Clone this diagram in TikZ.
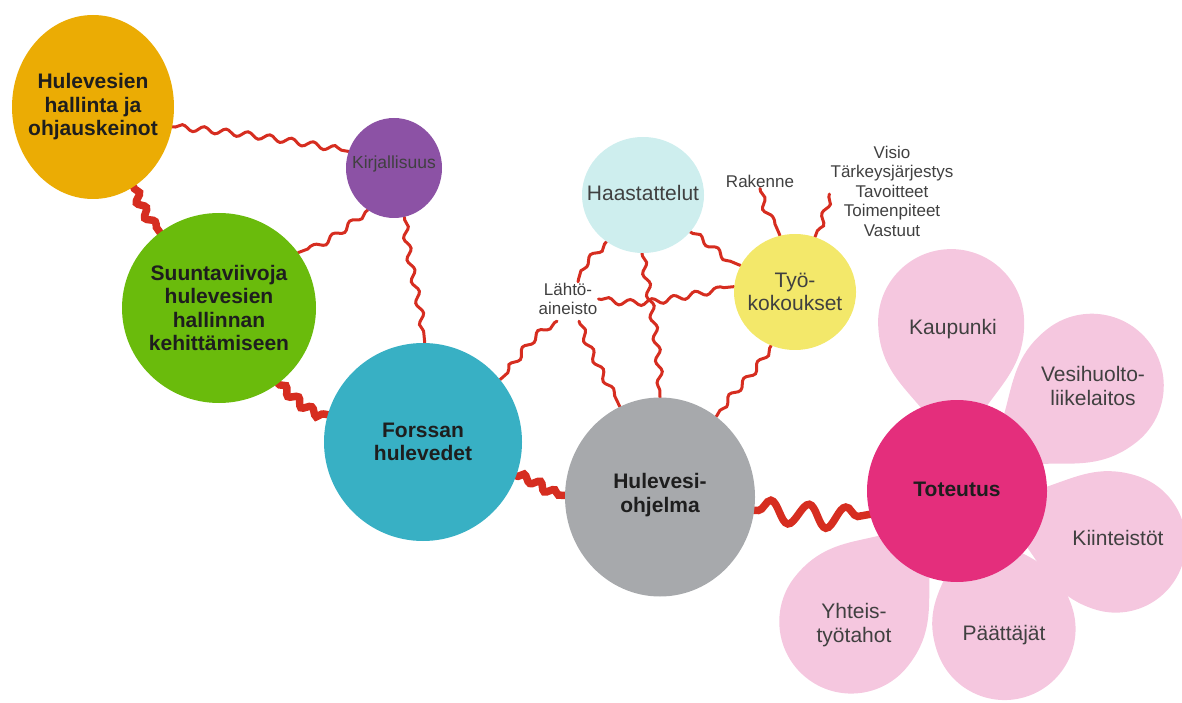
\documentclass[tikz,border=0pt]{standalone}
\usepackage{fontspec}
\setmainfont{Liberation Sans}
\usetikzlibrary{shapes.geometric,decorations.pathmorphing}
\definecolor{cOrange}{RGB}{235,172,4}
\definecolor{cPurple}{RGB}{140,82,165}
\definecolor{cGreen}{RGB}{106,187,12}
\definecolor{cTeal}{RGB}{56,176,196}
\definecolor{cGrey}{RGB}{167,169,172}
\definecolor{cCyan}{RGB}{206,238,238}
\definecolor{cYellow}{RGB}{243,232,106}
\definecolor{cMagenta}{RGB}{228,46,124}
\definecolor{cPink}{RGB}{245,199,223}
\definecolor{cRed}{RGB}{214,45,32}
\definecolor{cText}{RGB}{30,30,30}
\pgfdeclarelayer{bg}
\pgfsetlayers{bg,main}
\begin{document}
\begin{tikzpicture}[x=1pt,y=1pt,
  bubble/.style={ellipse, inner sep=0pt, draw=none},
  bigtext/.style={font=\fontsize{21}{23.5}\selectfont\bfseries, text=cText, align=center, inner sep=0pt},
  midtext/.style={font=\fontsize{21}{23.5}\selectfont, text=cText!85, align=center, inner sep=0pt},
  smalltext/.style={font=\fontsize{17}{19.5}\selectfont, text=cText!85, align=center, inner sep=1pt},
  wig/.style={draw=cRed, line width=3pt, line cap=round, decorate,
    decoration={snake, amplitude=3pt, segment length=22pt, pre length=3pt, post length=3pt}},
  thickwig/.style={draw=cRed, line width=7.5pt, line cap=round, decorate,
    decoration={snake, amplitude=3.5pt, segment length=17pt, pre length=2pt, post length=2pt}},
  bigwig/.style={draw=cRed, line width=7.5pt, line cap=round, decorate,
    decoration={snake, amplitude=11pt, segment length=38pt, pre length=4pt, post length=2pt}}
]
\useasboundingbox (0,0) rectangle (1182,702);

% petals
\foreach \a/\L/\R in {92/169/73, 38/171/72, -18/167/70, -71/146/71, 231/168/72}{
  \fill[cPink, shift={(957,211)}, rotate=\a]
    (0,0) .. controls ({0.55*\L},7) and ({\L-\R},\R) .. (\L,\R)
    arc[start angle=90, end angle=-90, radius=\R]
    .. controls ({\L-\R},-\R) and ({0.55*\L},-7) .. cycle;
}

% main bubbles
\node[bubble, fill=cOrange, minimum width=162pt, minimum height=184pt] (hal) at (93,595) {};
\node[bigtext] (halT) at (hal) {Hulevesien\\hallinta ja\\ohjauskeinot};

\node[bubble, fill=cPurple, minimum width=96pt, minimum height=100pt] (kir) at (394,534) {};
\node[midtext, font=\fontsize{17.5}{21}\selectfont] (kirT) at ([yshift=4pt]kir.center) {Kirjallisuus};

\node[bubble, fill=cGreen, minimum width=194pt, minimum height=190pt] (sun) at (219,394) {};
\node[bigtext] (sunT) at (sun) {Suuntaviivoja\\hulevesien\\hallinnan\\kehittämiseen};

\node[bubble, fill=cTeal, minimum width=198pt, minimum height=198pt] (for) at (423,260) {};
\node[bigtext] (forT) at (for) {Forssan\\hulevedet};

\node[bubble, fill=cGrey, minimum width=190pt, minimum height=199pt] (hul) at (660,205) {};
\node[bigtext] (hulT) at ([yshift=2pt]hul.center) {Hulevesi-\\ohjelma};

\node[bubble, fill=cCyan, minimum width=122pt, minimum height=116pt] (haa) at (643,507) {};
\node[midtext] (haaT) at ([yshift=2pt]haa.center) {Haastattelut};

\node[bubble, fill=cYellow, minimum width=122pt, minimum height=116pt] (tyo) at (795,410) {};
\node[midtext] (tyoT) at (tyo) {Työ-\\kokoukset};

\node[bubble, fill=cMagenta, minimum width=180pt, minimum height=182pt] (tot) at (957,211) {};
\node[bigtext] (totT) at ([yshift=2pt]tot.center) {Toteutus};

% petal labels
\node[midtext] (kau) at (953,373) {Kaupunki};
\node[midtext] (ves) at (1093,316) {Vesihuolto-\\liikelaitos};
\node[midtext] (kii) at (1118,164) {Kiinteistöt};
\node[midtext] (paa) at (1004,67) {Päättäjät};
\node[midtext] (yht) at (854,77) {Yhteis-\\työtahot};

% small labels
\node[smalltext] (lah) at (568,403) {Lähtö-\\aineisto};
\node[smalltext] (rak) at (760,521) {Rakenne};
\node[smalltext] (vis) at (892,511) {Visio\\Tärkeysjärjestys\\Tavoitteet\\Toimenpiteet\\Vastuut};

% connectors
\begin{pgfonlayer}{bg}
\draw[wig] (hal.-14) to[out=-5,in=170] (kir.160);
\draw[wig] (kir.238) to[out=220,in=20] (sun.35);
\draw[wig] (kir.-78) to[out=-85,in=95] (for.89);
\draw[thickwig] (hal.-63) to[out=-70,in=125] (sun.128);
\draw[thickwig] (sun.-52) to[out=-40,in=170] (for.164);
\draw[thickwig] (for.-20) to[out=-10,in=180] (hul.179);
\draw[bigwig] (hul.-8) to[out=-3,in=190] (tot.195);
\draw[wig] (haa.232) to[out=230,in=80] ([xshift=10pt]lah.north);
\draw[wig] ([xshift=-11pt,yshift=-5pt]lah.south) to[out=210,in=40] (for.39);
\draw[wig] ([xshift=11pt,yshift=-5pt]lah.south) to[out=-70,in=115] (hul.114);
\draw[wig] (haa.-91) to[out=-80,in=92] (hul.90);
\draw[wig] (lah.east) to[out=-10,in=185] (tyo.175);
\draw[wig] (haa.-38) to[out=-30,in=160] (tyo.154);
\draw[wig] (tyo.-114) to[out=-120,in=60] (hul.55);
\draw[wig] (rak.south) to[out=-80,in=110] (tyo.105);
\draw[wig] ([yshift=-3pt]vis.west) to[out=-100,in=70] (tyo.70);
\end{pgfonlayer}
\end{tikzpicture}
\end{document}
